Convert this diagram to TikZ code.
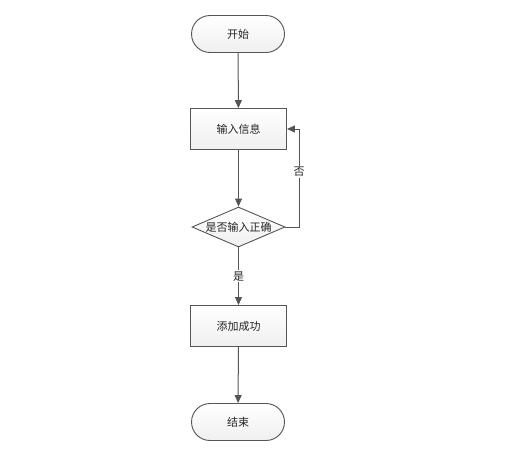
\documentclass[tikz,border=0pt]{standalone}
\usepackage{fontspec}
\newfontfamily\cjk{Noto Sans CJK SC}
\usetikzlibrary{shapes.geometric,shapes.misc,arrows.meta}
\definecolor{edge}{HTML}{555555}
\tikzset{
  base/.style={draw=edge, line width=0.9pt, top color=white, bottom color=gray!12, font=\cjk\fontsize{11}{13}\selectfont, text=black!85, inner sep=0pt},
  term/.style={base, rounded rectangle, minimum width=93pt, minimum height=37pt},
  proc/.style={base, rectangle, minimum width=96pt, minimum height=41pt},
  dec/.style={base, diamond, aspect=2.35, minimum width=93pt, minimum height=40pt},
  flow/.style={draw=edge, line width=1pt, -{Triangle[length=8pt,width=7pt]}},
  lbl/.style={font=\cjk\fontsize{11}{13}\selectfont, fill=white, inner sep=1pt, text=black!85}
}
\begin{document}
\begin{tikzpicture}[x=1pt,y=-1pt]
\useasboundingbox (0,0) rectangle (530,451);
\node[term] (start) at (238,34) {开始};
\node[proc] (input) at (238.5,129) {输入信息};
\node[dec] (check) at (238.5,227) {是否输入正确};
\node[proc] (add) at (238.5,326) {添加成功};
\node[term] (end) at (238,422) {结束};
\coordinate (c1) at (299,227);
\coordinate (c2) at (299,129);
\draw[flow] (start) -- (input);
\draw[flow] (input) -- (check);
\draw[flow] (check) -- node[lbl, pos=0.5] (yes) {是} (add);
\draw[flow] (add) -- (end);
\draw[flow] (check.east) -- (c1) -- node[lbl, pos=0.56] (no) {否} (c2) -- (input.east);
\end{tikzpicture}
\end{document}
